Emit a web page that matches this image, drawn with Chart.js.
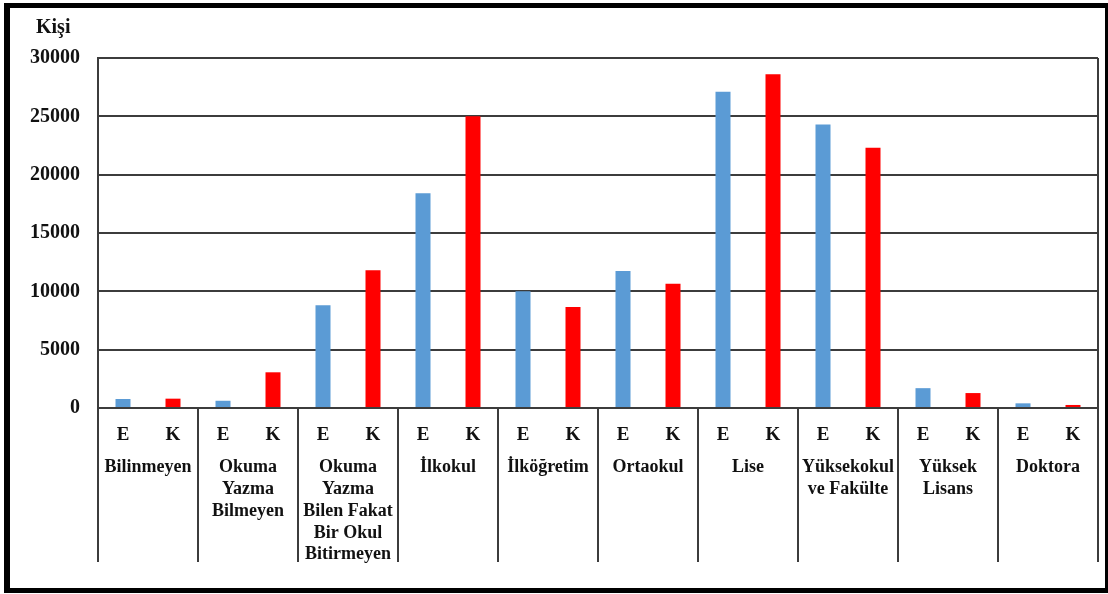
<!DOCTYPE html>
<html lang="tr">
<head>
  <meta charset="UTF-8">
  <title>Eğitim Durumu - Kişi</title>
  <script src="https://cdn.jsdelivr.net/npm/chart.js"></script>
  <style>
    body {
      margin: 0;
      padding: 0;
      background-color: white;
      font-family: "Liberation Serif", serif;
    }

    .sahne {
      position: relative;
      width: 1108px;
      height: 594px;
      overflow: hidden;
    }

    .cerceve {
      position: absolute;
      left: 4px;
      top: 3px;
      right: 0;
      bottom: 1px;
      border-style: solid;
      border-color: black;
      border-width: 5px 3px 5px 6px;
      box-sizing: border-box;
      pointer-events: none;
    }

    .birim {
      position: absolute;
      left: 36px;
      top: 15px;
      font-size: 20px;
      font-weight: bold;
      color: #111;
    }

    canvas {
      position: absolute;
      left: 0;
      top: 0;
    }
  </style>
</head>
<body>

  <div class="sahne">
    <canvas id="grafik" width="1108" height="594"></canvas>
    <div class="birim">Kişi</div>
    <div class="cerceve"></div>
  </div>

  <script>
    // Eğitim durumu kategorileri (çok satırlı etiketler)
    const kategoriler = [
      ["Bilinmeyen"],
      ["Okuma", "Yazma", "Bilmeyen"],
      ["Okuma", "Yazma", "Bilen Fakat", "Bir Okul", "Bitirmeyen"],
      ["İlkokul"],
      ["İlköğretim"],
      ["Ortaokul"],
      ["Lise"],
      ["Yüksekokul", "ve Fakülte"],
      ["Yüksek", "Lisans"],
      ["Doktora"]
    ];
    const cinsiyetler = ["E", "K"];

    // Değerler (kişi)
    const erkek = [770, 620, 8800, 18400, 10000, 11750, 27100, 24300, 1700, 400];
    const kadin = [800, 3060, 11800, 25000, 8650, 10650, 28600, 22300, 1280, 260];

    const yTikleri = [0, 5000, 10000, 15000, 20000, 25000, 30000];

    const maviRenk = "#5b9bd5";
    const kirmiziRenk = "#ff0000";
    const cizgiRengi = "#3c3c3c";

    Chart.defaults.font.family = "Liberation Serif";

    // E / K sıralı etiket ve değerler
    const altEtiketler = [];
    const degerler = [];
    const renkler = [];
    kategoriler.forEach((k, i) => {
      altEtiketler.push(cinsiyetler[0], cinsiyetler[1]);
      degerler.push(erkek[i], kadin[i]);
      renkler.push(maviRenk, kirmiziRenk);
    });

    // Grup ayırıcı dikey çizgiler
    const ayiricilar = {
      id: "ayiricilar",
      afterDraw(chart) {
        const ctx = chart.ctx;
        const x = chart.scales.x;
        const alan = chart.chartArea;
        const altUc = chart.height - 32;
        ctx.save();
        ctx.strokeStyle = cizgiRengi;
        ctx.lineWidth = 2;
        for (let i = 0; i <= kategoriler.length; i++) {
          let px, ust;
          if (i === 0) { px = alan.left; ust = alan.top; }
          else if (i === kategoriler.length) { px = alan.right; ust = alan.top; }
          else {
            px = (x.getPixelForValue(2 * i - 1) + x.getPixelForValue(2 * i)) / 2;
            ust = alan.bottom;
          }
          ctx.beginPath();
          ctx.moveTo(px, ust);
          ctx.lineTo(px, altUc);
          ctx.stroke();
        }
        ctx.restore();
      }
    };

    const yazi = { family: "Liberation Serif", weight: "bold" };

    new Chart(document.getElementById("grafik"), {
      type: "bar",
      data: {
        labels: altEtiketler,
        datasets: [{
          data: degerler,
          backgroundColor: renkler,
          barPercentage: 0.3,
          categoryPercentage: 1
        }]
      },
      options: {
        responsive: false,
        animation: false,
        layout: { padding: { left: 10, right: 10, top: 58, bottom: 0 } },
        plugins: {
          legend: { display: false },
          tooltip: { enabled: false }
        },
        scales: {
          x: {
            position: "bottom",
            grid: { display: false },
            border: { display: false },
            ticks: {
              color: "#111",
              font: { ...yazi, size: 19 },
              padding: 8,
              maxRotation: 0,
              autoSkip: false
            },
            afterFit: s => { s.height = 40; }
          },
          x2: {
            type: "category",
            position: "bottom",
            labels: kategoriler,
            offset: true,
            grid: { display: false },
            border: { display: false },
            ticks: {
              color: "#111",
              font: { ...yazi, size: 18, lineHeight: 1.22 },
              padding: 0,
              maxRotation: 0,
              autoSkip: false
            },
            afterFit: s => { s.height = 146; }
          },
          y: {
            min: 0,
            max: 30000,
            afterBuildTicks: s => { s.ticks = yTikleri.map(v => ({ value: v })); },
            grid: { color: cizgiRengi, lineWidth: 2, drawTicks: false },
            border: { display: true, color: cizgiRengi, width: 2 },
            ticks: {
              color: "#111",
              font: { ...yazi, size: 20 },
              padding: 18,
              callback: v => String(v)
            },
            afterFit: s => { s.width = 88; }
          }
        }
      },
      plugins: [ayiricilar]
    });
  </script>

</body>
</html>
